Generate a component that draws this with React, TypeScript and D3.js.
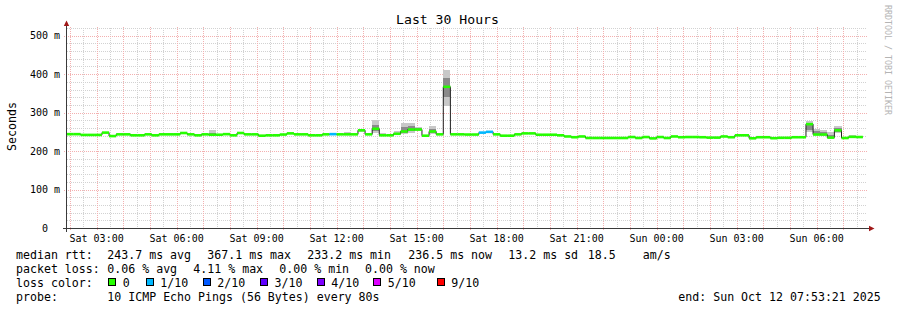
import React from 'react';
import * as d3 from 'd3';

const W = 897;
const H = 310;

// ---- data ----
// median RTT (ms) per 16-minute consolidated step, first step starts Sat 01:52
const medianMs = [
  244, 244, 242, 242, 242, 248, 239, 243.5, 243.5, 241,
  241, 243.5, 241, 243.5, 243.5, 243.5, 247, 243.5, 241, 243.5,
  242.5, 242.5, 244, 241, 247, 243.5, 243.5, 240, 241, 241,
  243, 246, 243.5, 243.5, 241, 241, 243.5, 244, 243.5, 243.5,
  243.5, 254, 243.5, 258, 241, 241, 245, 251, 256, 256,
  240, 251, 243.5, 367.1, 243.5, 243.5, 243, 243, 248, 250,
  243.5, 240, 240, 243.5, 246, 246, 242.5, 242.5, 242.5, 241,
  238, 236, 238, 234, 234, 234, 234, 234, 234, 236.5,
  234, 236.5, 233, 236.5, 234, 238, 236, 236.5, 236.5, 236,
  235, 235, 238, 236, 241, 241, 233.2, 236, 236, 233.5,
  234.5, 234.5, 236, 236, 270, 243, 243, 235, 254, 234,
  237, 236.5,
];
const lossIdx = [37, 58, 59];
const lossLevel = [1, 1, 1];

const smokeIdx = [20, 39, 41, 43, 44, 46, 47, 48, 49, 51, 53, 104, 105, 106, 107, 108, 110];
const smokeLo = [241, 242, 250, 248, 240, 242, 245, 248, 252, 244, 318, 249, 242, 240, 233, 246, 236];
const smokeQ1 = [242, 243, 252, 252, 241, 244, 248, 252, 254, 248, 340, 255, 244, 243, 235, 250, 237];
const smokeQ3 = [248, 245, 256, 268, 244, 248, 262, 264, 259, 258, 390, 272, 252, 250, 243, 260, 239];
const smokeHi = [254, 249, 258, 282, 247, 252, 272, 272, 262, 264, 411, 279, 258, 255, 249, 264, 241];

const stepMinutes = 16;
const firstStepMinute = 112; // Sat 01:52
const startHour = 1 + 53 / 60 + 21 / 3600; // Sat 01:53:21
const spanHours = 30;

const xTickHours = [3, 6, 9, 12, 15, 18, 21, 24, 27, 30];
const xTickLabels = ['Sat 03:00', 'Sat 06:00', 'Sat 09:00', 'Sat 12:00', 'Sat 15:00', 'Sat 18:00', 'Sat 21:00', 'Sun 00:00', 'Sun 03:00', 'Sun 06:00'];
const yTickValues = [0, 100, 200, 300, 400, 500];
const yTickLabels = ['  0  ', '100 m', '200 m', '300 m', '400 m', '500 m'];

const lossColors = ['#26ff00', '#00b8ff', '#0059ff', '#5e00ff', '#7e00ff', '#dd00ff', '#ff0000'];
const lossLabels = ['0', '1/10', '2/10', '3/10', '4/10', '5/10', '9/10'];

const rttValues = [243.7, 367.1, 233.2, 236.5];
const rttNames = ['avg', 'max', 'min', 'now'];
const rttSd = 13.2;
const rttAms = 18.5;
const lossValues = [0.06, 4.11, 0.0, 0.0];
const lossNames = ['avg', 'max', 'min', 'now'];
const probeText = '10 ICMP Echo Pings (56 Bytes) every 80s';
const endText = 'end: Sun Oct 12 07:53:21 2025';
const titleText = 'Last 30 Hours';

const MONO = '"DejaVu Sans Mono", monospace';

export default function App() {
  const x = d3.scaleLinear().domain([startHour, startHour + spanHours]).range([67, 867]);
  const y = d3.scaleLinear().domain([0, 520]).range([228, 28]);

  const steps = medianMs.map((v, i) => {
    const s = (firstStepMinute + i * stepMinutes) / 60;
    const e = s + stepMinutes / 60;
    const li = lossIdx.indexOf(i);
    return { s: Math.max(s, startHour), e, v, loss: li >= 0 ? lossLevel[li] : 0 };
  });

  const linePts: [number, number][] = steps.map((d) => [x(d.s), y(d.v)]);
  const last = steps[steps.length - 1];
  linePts.push([x(last.e), y(last.v)]);
  const medianPath = d3.line().curve(d3.curveStepAfter)(linePts) || '';

  // grid
  const majorV: number[] = [];
  const minorV: number[] = [];
  for (let h = Math.ceil(startHour * 2) / 2; h <= startHour + spanHours; h += 0.5) {
    if (Math.abs(h - Math.round(h)) < 1e-6) majorV.push(h);
    else minorV.push(h);
  }
  const minorH: number[] = [];
  for (let v = 20; v <= 520; v += 20) if (v % 100 !== 0) minorH.push(v);
  const majorH = yTickValues.filter((v) => v > 0);

  const minorColor = '#d2d2d2';
  const majorColor = '#f3b0b0';
  const axisColor = '#3a3a3a';
  const arrowColor = '#a01818';

  const fmt1 = d3.format('.1f');
  const fmt2 = d3.format('.2f');

  const line1 = [
    { x: 16, t: 'median rtt:' },
    ...rttValues.map((v, i) => ({ x: [107.3, 207.3, 307.3, 408.3][i], t: `${fmt1(v)} ms ${rttNames[i]}` })),
    { x: 508.3, t: `${fmt1(rttSd)} ms sd` },
    { x: 587.7, t: `${fmt1(rttAms)}` },
    { x: 642.7, t: 'am/s' },
  ];
  const line2 = [
    { x: 16, t: 'packet loss:' },
    ...lossValues.map((v, i) => ({ x: [107.3, 193.3, 279.3, 365][i], t: `${fmt2(v)} % ${lossNames[i]}` })),
  ];
  const boxX = [108.3, 145.7, 202.7, 260, 316.7, 373.3, 436.7];

  return (
    <svg
      width={W}
      height={H}
      viewBox={`0 0 ${W} ${H}`}
      style={{ position: 'fixed', left: 0, top: 0, background: '#ffffff' }}
      fontFamily={MONO}
    >
      <rect x={0} y={0} width={W} height={H} fill="#ffffff" />
      {/* grid */}
      <g shapeRendering="crispEdges">
        {minorH.map((v) => (
          <line key={'mh' + v} x1={67} x2={867} y1={Math.round(y(v)) + 0.5} y2={Math.round(y(v)) + 0.5} stroke={minorColor} strokeDasharray="1,1" />
        ))}
        {minorV.map((h) => (
          <line key={'mv' + h} x1={Math.round(x(h)) + 0.5} x2={Math.round(x(h)) + 0.5} y1={28} y2={228} stroke={minorColor} strokeDasharray="1,1" />
        ))}
        {majorH.map((v) => (
          <line key={'Mh' + v} x1={64} x2={867} y1={Math.round(y(v)) + 0.5} y2={Math.round(y(v)) + 0.5} stroke={majorColor} strokeDasharray="1,1" />
        ))}
        {majorV.map((h) => (
          <line key={'Mv' + h} x1={Math.round(x(h)) + 0.5} x2={Math.round(x(h)) + 0.5} y1={27} y2={231} stroke={majorColor} strokeDasharray="1,1" />
        ))}
      </g>

      {/* smoke */}
      <g shapeRendering="crispEdges">
        {smokeIdx.map((si, k) => {
          const d = steps[si];
          const x0 = x(d.s);
          const x1 = x(d.e);
          return (
            <g key={'sm' + si}>
              <rect x={x0} width={x1 - x0} y={y(smokeHi[k])} height={y(smokeLo[k]) - y(smokeHi[k])} fill="#c8c8c8" />
              <rect x={x0} width={x1 - x0} y={y(smokeQ3[k])} height={y(smokeQ1[k]) - y(smokeQ3[k])} fill="#8a8a8a" />
            </g>
          );
        })}
      </g>

      {/* median dark line */}
      <path d={medianPath} fill="none" stroke="#202020" strokeWidth={1} />
      {/* loss-coloured median segments */}
      {steps.map((d, i) => (
        <line key={'md' + i} x1={x(d.s)} x2={x(d.e)} y1={y(d.v)} y2={y(d.v)} stroke={lossColors[d.loss]} strokeWidth={2.6} />
      ))}

      {/* axes */}
      <g shapeRendering="crispEdges">
        <line x1={66.5} x2={66.5} y1={25} y2={232} stroke={axisColor} />
        <line x1={63} x2={870} y1={228.5} y2={228.5} stroke={axisColor} />
      </g>
      <path d="M63.8,26 L66.5,20.5 L69.2,26 Z" fill={arrowColor} />
      <path d="M869,225.8 L874.5,228.5 L869,231.2 Z" fill={arrowColor} />

      {/* y labels */}
      {yTickValues.map((v, i) => (
        <text key={'yl' + v} x={30} y={y(v) + 3.6} fontSize={10} fill="#000" xmlSpace="preserve" style={{ whiteSpace: 'pre' }}>
          {yTickLabels[i]}
        </text>
      ))}
      {/* x labels */}
      {xTickHours.map((h, i) => (
        <text key={'xl' + h} x={x(h)} y={241.5} fontSize={10} textAnchor="middle" fill="#000">
          {xTickLabels[i]}
        </text>
      ))}

      {/* title */}
      <text x={447.5} y={24} fontSize={13.15} textAnchor="middle" fill="#000">
        {titleText}
      </text>
      {/* y axis title */}
      <text transform="translate(15.5,126.5) rotate(-90)" fontSize={11.6} textAnchor="middle" fill="#000">
        Seconds
      </text>
      {/* watermark */}
      <text transform="translate(885,5) rotate(90)" fontSize={8.3} fill="#b4b4b4">
        RRDTOOL / TOBI OETIKER
      </text>

      {/* legend */}
      <g fontSize={11.6} fill="#000">
        {line1.map((d, i) => (
          <text key={'l1' + i} x={d.x} y={258.5}>{d.t}</text>
        ))}
        {line2.map((d, i) => (
          <text key={'l2' + i} x={d.x} y={272.5}>{d.t}</text>
        ))}
        <text x={16} y={286.5}>loss color:</text>
        {lossColors.map((c, i) => (
          <g key={'lc' + i}>
            <rect x={Math.round(boxX[i]) + 0.5} y={278.5} width={7} height={7} fill={c} stroke="#000" strokeWidth={1} shapeRendering="crispEdges" />
            <text x={boxX[i] + 14.5} y={286.5}>{lossLabels[i]}</text>
          </g>
        ))}
        <text x={16} y={300.5}>probe:</text>
        <text x={107.3} y={300.5}>{probeText}</text>
        <text x={678.3} y={300.5}>{endText}</text>
      </g>
    </svg>
  );
}
